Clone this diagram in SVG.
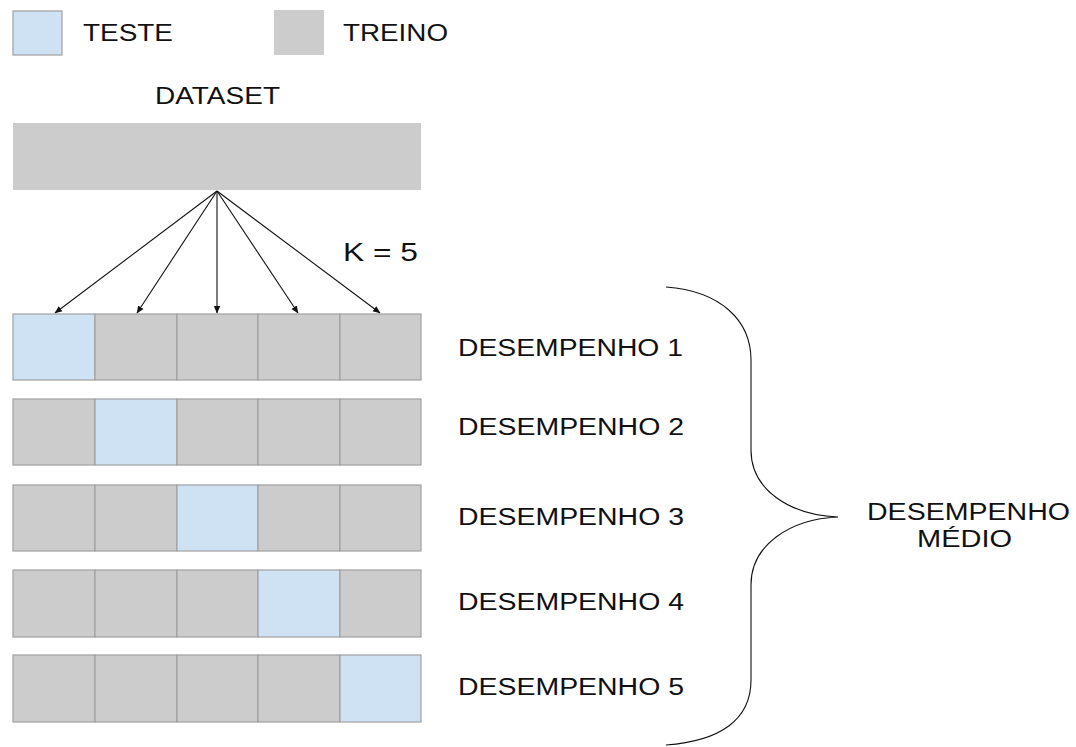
<svg xmlns="http://www.w3.org/2000/svg" width="1076" height="747" viewBox="0 0 1076 747">
<defs>
<style>
text{font-family:"Liberation Sans",Arial,sans-serif;fill:#111;font-size:24.5px}
.tr{fill:#cccccc;stroke:#a0a0a0;stroke-width:1.2}
.te{fill:#cfe2f3;stroke:#a0a0a0;stroke-width:1.2}
.conn{stroke:#111;stroke-width:1.1;fill:none}
</style>
<marker id="ah" markerWidth="8" markerHeight="8" refX="7" refY="4" orient="auto" markerUnits="userSpaceOnUse">
<path d="M0,0.8 L7.5,4 L0,7.2 Z" fill="#111"/>
</marker>
</defs>
<rect width="1076" height="747" fill="#fff"/>
<g id="legend-teste"><rect class="te" x="13" y="11" width="49" height="44"/><text x="83" y="41" textLength="90" lengthAdjust="spacingAndGlyphs">TESTE</text></g>
<g id="legend-treino"><rect x="274" y="10" width="50" height="45" fill="#cccccc"/><text x="343" y="41" textLength="105" lengthAdjust="spacingAndGlyphs">TREINO</text></g>
<g id="dataset"><text x="155" y="104" textLength="125" lengthAdjust="spacingAndGlyphs">DATASET</text><rect x="13" y="123" width="408" height="67" fill="#cccccc"/></g>
<g id="k"><text x="343" y="260.5" font-size="26.5" textLength="75" lengthAdjust="spacingAndGlyphs" style="font-size:26.5px">K = 5</text></g>
<g id="connectors">
<line class="conn" x1="217" y1="191" x2="55" y2="313" marker-end="url(#ah)"/>
<line class="conn" x1="217" y1="191" x2="137" y2="313" marker-end="url(#ah)"/>
<line class="conn" x1="217" y1="191" x2="217" y2="313" marker-end="url(#ah)"/>
<line class="conn" x1="217" y1="191" x2="298" y2="313" marker-end="url(#ah)"/>
<line class="conn" x1="217" y1="191" x2="380" y2="313" marker-end="url(#ah)"/>
<path class="conn" d="M666,287 C720,291 751,320 751,360 L751,450 C751,490 790,515 838,517 C790,519 751,545 751,585 L751,680 C751,720 720,741 666,745"/>
</g>
<g id="row1"><rect class="te" x="13" y="314" width="82" height="66"/><rect class="tr" x="95" y="314" width="82" height="66"/><rect class="tr" x="177" y="314" width="81" height="66"/><rect class="tr" x="258" y="314" width="82" height="66"/><rect class="tr" x="340" y="314" width="81" height="66"/><text x="458" y="356" textLength="225" lengthAdjust="spacingAndGlyphs">DESEMPENHO 1</text></g>
<g id="row2"><rect class="tr" x="13" y="399" width="82" height="66"/><rect class="te" x="95" y="399" width="82" height="66"/><rect class="tr" x="177" y="399" width="81" height="66"/><rect class="tr" x="258" y="399" width="82" height="66"/><rect class="tr" x="340" y="399" width="81" height="66"/><text x="458" y="435" textLength="226" lengthAdjust="spacingAndGlyphs">DESEMPENHO 2</text></g>
<g id="row3"><rect class="tr" x="13" y="485" width="82" height="66"/><rect class="tr" x="95" y="485" width="82" height="66"/><rect class="te" x="177" y="485" width="81" height="66"/><rect class="tr" x="258" y="485" width="82" height="66"/><rect class="tr" x="340" y="485" width="81" height="66"/><text x="458" y="525" textLength="226" lengthAdjust="spacingAndGlyphs">DESEMPENHO 3</text></g>
<g id="row4"><rect class="tr" x="13" y="570" width="82" height="67"/><rect class="tr" x="95" y="570" width="82" height="67"/><rect class="tr" x="177" y="570" width="81" height="67"/><rect class="te" x="258" y="570" width="82" height="67"/><rect class="tr" x="340" y="570" width="81" height="67"/><text x="458" y="610" textLength="226" lengthAdjust="spacingAndGlyphs">DESEMPENHO 4</text></g>
<g id="row5"><rect class="tr" x="13" y="655" width="82" height="67"/><rect class="tr" x="95" y="655" width="82" height="67"/><rect class="tr" x="177" y="655" width="81" height="67"/><rect class="tr" x="258" y="655" width="82" height="67"/><rect class="te" x="340" y="655" width="81" height="67"/><text x="458" y="695" textLength="226" lengthAdjust="spacingAndGlyphs">DESEMPENHO 5</text></g>
<g id="medio"><text x="867" y="520" textLength="203" lengthAdjust="spacingAndGlyphs">DESEMPENHO</text><text x="917" y="547" textLength="95" lengthAdjust="spacingAndGlyphs">MÉDIO</text></g>
</svg>
